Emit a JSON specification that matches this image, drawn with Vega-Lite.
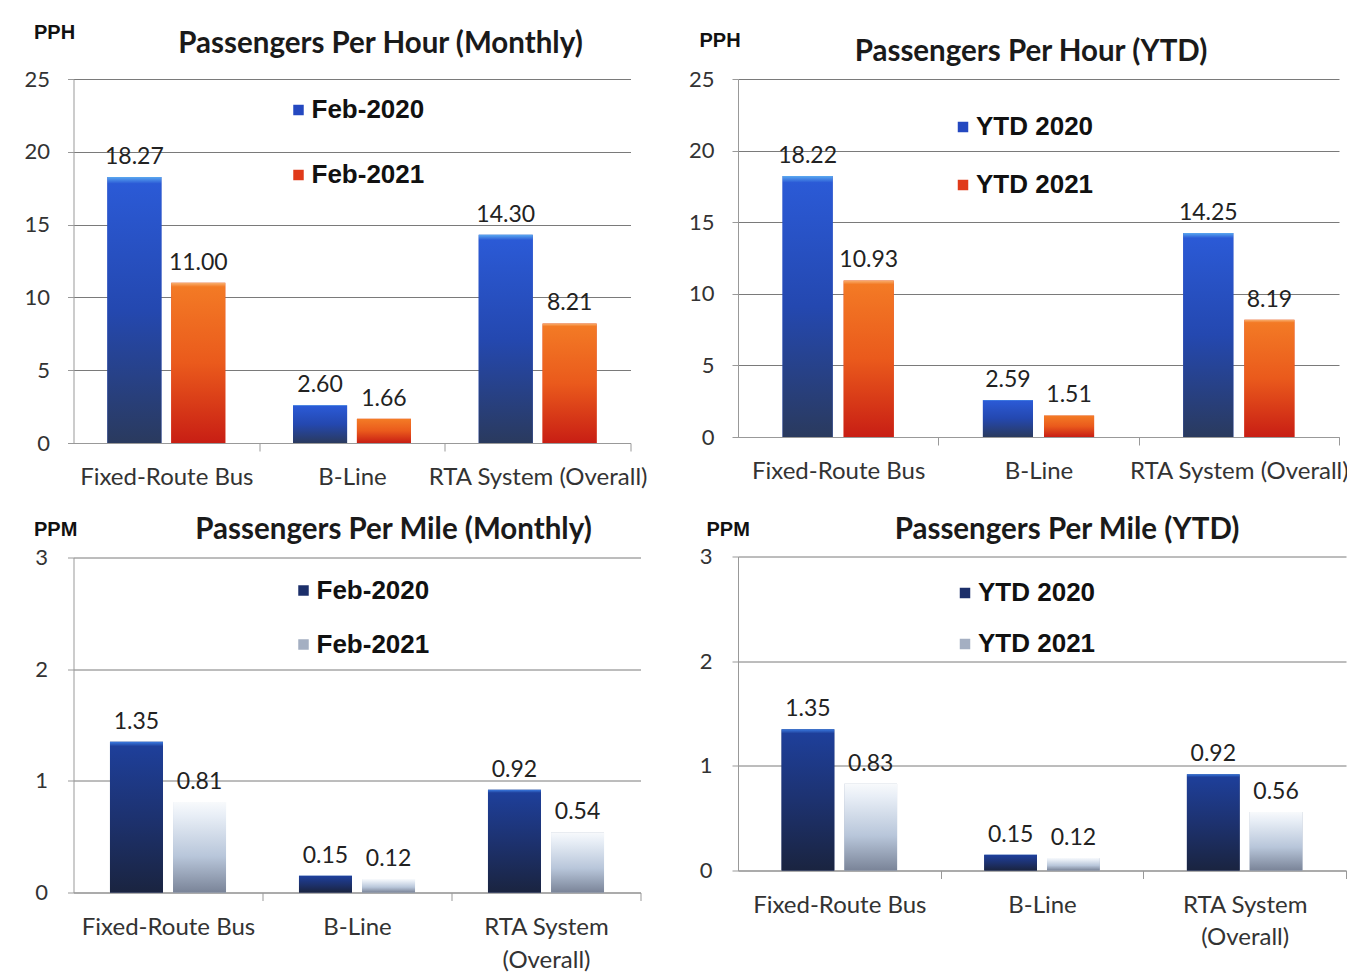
{
  "$schema": "https://vega.github.io/schema/vega-lite/v6.json",
  "background": "#ffffff",
  "padding": {"left": 23.5, "top": 22, "right": 0, "bottom": 0},
  "columns": 2,
  "align": {"row": "none", "column": "each"},
  "spacing": {"row": 25.5, "column": 40.5},
  "resolve": {"scale": {"color": "independent", "xOffset": "independent"}, "legend": {"color": "independent"}},
  "config": {"view": {"stroke": null}, "font": "Lato"},
  "datasets": {
    "pph_monthly": [
      {"category": "Fixed-Route Bus", "series": "Feb-2020", "value": 18.27},
      {"category": "Fixed-Route Bus", "series": "Feb-2021", "value": 11.00},
      {"category": "B-Line", "series": "Feb-2020", "value": 2.60},
      {"category": "B-Line", "series": "Feb-2021", "value": 1.66},
      {"category": "RTA System (Overall)", "series": "Feb-2020", "value": 14.30},
      {"category": "RTA System (Overall)", "series": "Feb-2021", "value": 8.21}
    ],
    "pph_ytd": [
      {"category": "Fixed-Route Bus", "series": "YTD 2020", "value": 18.22},
      {"category": "Fixed-Route Bus", "series": "YTD 2021", "value": 10.93},
      {"category": "B-Line", "series": "YTD 2020", "value": 2.59},
      {"category": "B-Line", "series": "YTD 2021", "value": 1.51},
      {"category": "RTA System (Overall)", "series": "YTD 2020", "value": 14.25},
      {"category": "RTA System (Overall)", "series": "YTD 2021", "value": 8.19}
    ],
    "ppm_monthly": [
      {"category": "Fixed-Route Bus", "series": "Feb-2020", "value": 1.35},
      {"category": "Fixed-Route Bus", "series": "Feb-2021", "value": 0.81},
      {"category": "B-Line", "series": "Feb-2020", "value": 0.15},
      {"category": "B-Line", "series": "Feb-2021", "value": 0.12},
      {"category": "RTA System (Overall)", "series": "Feb-2020", "value": 0.92},
      {"category": "RTA System (Overall)", "series": "Feb-2021", "value": 0.54}
    ],
    "ppm_ytd": [
      {"category": "Fixed-Route Bus", "series": "YTD 2020", "value": 1.35},
      {"category": "Fixed-Route Bus", "series": "YTD 2021", "value": 0.83},
      {"category": "B-Line", "series": "YTD 2020", "value": 0.15},
      {"category": "B-Line", "series": "YTD 2021", "value": 0.12},
      {"category": "RTA System (Overall)", "series": "YTD 2020", "value": 0.92},
      {"category": "RTA System (Overall)", "series": "YTD 2021", "value": 0.56}
    ]
  },
  "concat": [
    {
      "width": 557, "height": 364,
      "title": {"text": "Passengers Per Hour (Monthly)", "frame": "group", "anchor": "middle", "dx": 28.5, "offset": -37, "fontSize": 29.5, "font": "Lato", "fontWeight": "bold", "color": "#1a1a1a"},
      "data": {"name": "pph_monthly"},
      "encoding": {
        "x": {"field": "category", "type": "nominal", "sort": ["Fixed-Route Bus", "B-Line", "RTA System (Overall)"], "scale": {"paddingInner": 0.365, "paddingOuter": 0.1825},
          "axis": {"title": null, "labelAngle": 0, "labelLimit": 0, "labelFont": "Lato", "labelFontSize": 24, "labelColor": "#333333", "labelPadding": 14, "tickOffset": 92.8, "labelOffset": -92.8, "tickSize": 8, "tickColor": "#999999", "domainColor": "#999999", "grid": false}},
        "xOffset": {"field": "series", "type": "nominal", "sort": ["Feb-2020", "Feb-2021"], "scale": {"paddingInner": 0.154, "paddingOuter": 0}},
        "y": {"field": "value", "type": "quantitative", "scale": {"domain": [0, 25]},
          "axis": {"values": [0, 5, 10, 15, 20, 25], "title": "PPH", "titleAngle": 0, "titleX": -40, "titleY": -47, "titleAlign": "left", "titleBaseline": "middle", "titleFont": "Liberation Sans", "titleFontSize": 20, "titleFontWeight": "bold", "titleColor": "#111111", "labelFont": "Lato", "labelFontSize": 22, "labelColor": "#333333", "labelPadding": 18, "tickSize": 6, "tickColor": "#999999", "domainColor": "#999999", "gridColor": "#7a7a7a", "gridWidth": 1}}
      },
      "layer": [
        {"mark": {"type": "bar"},
         "encoding": {"color": {"field": "series", "type": "nominal", "scale": {"domain": ["Feb-2020", "Feb-2021"], "range": ["#2448c0", "#e03a1a"]},
           "legend": {"orient": "none", "legendX": 212, "legendY": 18, "title": null, "direction": "vertical", "symbolType": "square", "symbolSize": 110, "symbolStrokeWidth": 0, "labelFont": "Liberation Sans", "labelFontSize": 26, "labelFontWeight": "bold", "labelColor": "#111111", "rowPadding": 39, "labelOffset": 0}}}},
        {"transform": [{"filter": "datum.series === 'Feb-2020'"}],
         "mark": {"type": "bar", "color": {"gradient": "linear", "x1": 0, "y1": 0, "x2": 0, "y2": 1, "stops": [{"offset": 0, "color": "#5aa8f0"}, {"offset": 0.025, "color": "#2b5ad6"}, {"offset": 0.5, "color": "#2448b0"}, {"offset": 1, "color": "#2a3a5e"}]}}},
        {"transform": [{"filter": "datum.series === 'Feb-2021'"}],
         "mark": {"type": "bar", "color": {"gradient": "linear", "x1": 0, "y1": 0, "x2": 0, "y2": 1, "stops": [{"offset": 0, "color": "#f8b070"}, {"offset": 0.025, "color": "#f37a25"}, {"offset": 0.5, "color": "#ea5a1c"}, {"offset": 1, "color": "#c81e14"}]}}},
        {"mark": {"type": "text", "dy": -20, "font": "Lato", "fontSize": 23, "color": "#222222"},
         "encoding": {"text": {"field": "value", "type": "quantitative", "format": ".2f"}}}
      ]
    },
    {
      "width": 601, "height": 358,
      "title": {"text": "Passengers Per Hour (YTD)", "frame": "group", "anchor": "middle", "dx": -7.5, "offset": -37, "fontSize": 29.5, "font": "Lato", "fontWeight": "bold", "color": "#1a1a1a"},
      "data": {"name": "pph_ytd"},
      "encoding": {
        "x": {"field": "category", "type": "nominal", "sort": ["Fixed-Route Bus", "B-Line", "RTA System (Overall)"], "scale": {"paddingInner": 0.445, "paddingOuter": 0.2225},
          "axis": {"title": null, "labelAngle": 0, "labelLimit": 0, "labelFont": "Lato", "labelFontSize": 24, "labelColor": "#333333", "labelPadding": 14, "tickOffset": 100.2, "labelOffset": -100.2, "tickSize": 8, "tickColor": "#999999", "domainColor": "#999999", "grid": false}},
        "xOffset": {"field": "series", "type": "nominal", "sort": ["YTD 2020", "YTD 2021"], "scale": {"paddingInner": 0.18, "paddingOuter": 0}},
        "y": {"field": "value", "type": "quantitative", "scale": {"domain": [0, 25]},
          "axis": {"values": [0, 5, 10, 15, 20, 25], "title": "PPH", "titleAngle": 0, "titleX": -39, "titleY": -39, "titleAlign": "left", "titleBaseline": "middle", "titleFont": "Liberation Sans", "titleFontSize": 20, "titleFontWeight": "bold", "titleColor": "#111111", "labelFont": "Lato", "labelFontSize": 22, "labelColor": "#333333", "labelPadding": 18, "tickSize": 6, "tickColor": "#999999", "domainColor": "#999999", "gridColor": "#7a7a7a", "gridWidth": 1}}
      },
      "layer": [
        {"mark": {"type": "bar"},
         "encoding": {"color": {"field": "series", "type": "nominal", "scale": {"domain": ["YTD 2020", "YTD 2021"], "range": ["#2448c0", "#e03a1a"]},
           "legend": {"orient": "none", "legendX": 212, "legendY": 35, "title": null, "direction": "vertical", "symbolType": "square", "symbolSize": 110, "symbolStrokeWidth": 0, "labelFont": "Liberation Sans", "labelFontSize": 26, "labelFontWeight": "bold", "labelColor": "#111111", "rowPadding": 32, "labelOffset": 0}}}},
        {"transform": [{"filter": "datum.series === 'YTD 2020'"}],
         "mark": {"type": "bar", "color": {"gradient": "linear", "x1": 0, "y1": 0, "x2": 0, "y2": 1, "stops": [{"offset": 0, "color": "#5aa8f0"}, {"offset": 0.025, "color": "#2b5ad6"}, {"offset": 0.5, "color": "#2448b0"}, {"offset": 1, "color": "#2a3a5e"}]}}},
        {"transform": [{"filter": "datum.series === 'YTD 2021'"}],
         "mark": {"type": "bar", "color": {"gradient": "linear", "x1": 0, "y1": 0, "x2": 0, "y2": 1, "stops": [{"offset": 0, "color": "#f8b070"}, {"offset": 0.025, "color": "#f37a25"}, {"offset": 0.5, "color": "#ea5a1c"}, {"offset": 1, "color": "#c81e14"}]}}},
        {"mark": {"type": "text", "dy": -20, "font": "Lato", "fontSize": 23, "color": "#222222"},
         "encoding": {"text": {"field": "value", "type": "quantitative", "format": ".2f"}}}
      ]
    },
    {
      "width": 567, "height": 335,
      "title": {"text": "Passengers Per Mile (Monthly)", "frame": "group", "anchor": "middle", "dx": 36.5, "offset": -26, "fontSize": 29.5, "font": "Lato", "fontWeight": "bold", "color": "#1a1a1a"},
      "data": {"name": "ppm_monthly"},
      "encoding": {
        "x": {"field": "category", "type": "nominal", "sort": ["Fixed-Route Bus", "B-Line", "RTA System (Overall)"], "scale": {"paddingInner": 0.386, "paddingOuter": 0.193},
          "axis": {"title": null, "labelAngle": 0, "labelLimit": 0, "labelExpr": "datum.label === 'RTA System (Overall)' ? ['RTA System', '(Overall)'] : datum.label", "labelLineHeight": 33, "labelFont": "Lato", "labelFontSize": 24, "labelColor": "#333333", "labelPadding": 15, "tickOffset": 94.5, "labelOffset": -94.5, "tickSize": 8, "tickColor": "#999999", "domainColor": "#999999", "grid": false}},
        "xOffset": {"field": "series", "type": "nominal", "sort": ["Feb-2020", "Feb-2021"], "scale": {"paddingInner": 0.16, "paddingOuter": 0}},
        "y": {"field": "value", "type": "quantitative", "scale": {"domain": [0, 3]},
          "axis": {"values": [0, 1, 2, 3], "title": "PPM", "titleAngle": 0, "titleX": -40, "titleY": -28, "titleAlign": "left", "titleBaseline": "middle", "titleFont": "Liberation Sans", "titleFontSize": 20, "titleFontWeight": "bold", "titleColor": "#111111", "labelFont": "Lato", "labelFontSize": 22, "labelColor": "#333333", "labelPadding": 20, "tickSize": 6, "tickColor": "#999999", "domainColor": "#999999", "gridColor": "#7a7a7a", "gridWidth": 1}}
      },
      "layer": [
        {"mark": {"type": "bar"},
         "encoding": {"color": {"field": "series", "type": "nominal", "scale": {"domain": ["Feb-2020", "Feb-2021"], "range": ["#1c2f6a", "#a4afc2"]},
           "legend": {"orient": "none", "legendX": 217, "legendY": 20, "title": null, "direction": "vertical", "symbolType": "square", "symbolSize": 110, "symbolStrokeWidth": 0, "labelFont": "Liberation Sans", "labelFontSize": 26, "labelFontWeight": "bold", "labelColor": "#111111", "rowPadding": 28, "labelOffset": 0}}}},
        {"transform": [{"filter": "datum.series === 'Feb-2020'"}],
         "mark": {"type": "bar", "color": {"gradient": "linear", "x1": 0, "y1": 0, "x2": 0, "y2": 1, "stops": [{"offset": 0, "color": "#3a7ae0"}, {"offset": 0.03, "color": "#1e3f9a"}, {"offset": 0.5, "color": "#1d3270"}, {"offset": 1, "color": "#1a2440"}]}}},
        {"transform": [{"filter": "datum.series === 'Feb-2021'"}],
         "mark": {"type": "bar", "color": {"gradient": "linear", "x1": 0, "y1": 0, "x2": 0, "y2": 1, "stops": [{"offset": 0, "color": "#f8fafc"}, {"offset": 0.15, "color": "#e8eef6"}, {"offset": 0.6, "color": "#b8c6da"}, {"offset": 1, "color": "#7a8498"}]}}},
        {"mark": {"type": "text", "dy": -20, "font": "Lato", "fontSize": 23, "color": "#222222"},
         "encoding": {"text": {"field": "value", "type": "quantitative", "format": ".2f"}}}
      ]
    },
    {
      "width": 608, "height": 314,
      "title": {"text": "Passengers Per Mile (YTD)", "frame": "group", "anchor": "middle", "dx": 25, "offset": -26, "fontSize": 29.5, "font": "Lato", "fontWeight": "bold", "color": "#1a1a1a"},
      "data": {"name": "ppm_ytd"},
      "encoding": {
        "x": {"field": "category", "type": "nominal", "sort": ["Fixed-Route Bus", "B-Line", "RTA System (Overall)"], "scale": {"paddingInner": 0.43, "paddingOuter": 0.215},
          "axis": {"title": null, "labelAngle": 0, "labelLimit": 0, "labelExpr": "datum.label === 'RTA System (Overall)' ? ['RTA System', '(Overall)'] : datum.label", "labelLineHeight": 32, "labelFont": "Lato", "labelFontSize": 24, "labelColor": "#333333", "labelPadding": 15, "tickOffset": 101.3, "labelOffset": -101.3, "tickSize": 8, "tickColor": "#999999", "domainColor": "#999999", "grid": false}},
        "xOffset": {"field": "series", "type": "nominal", "sort": ["YTD 2020", "YTD 2021"], "scale": {"paddingInner": 0.16, "paddingOuter": 0}},
        "y": {"field": "value", "type": "quantitative", "scale": {"domain": [0, 3]},
          "axis": {"values": [0, 1, 2, 3], "title": "PPM", "titleAngle": 0, "titleX": -32, "titleY": -27, "titleAlign": "left", "titleBaseline": "middle", "titleFont": "Liberation Sans", "titleFontSize": 20, "titleFontWeight": "bold", "titleColor": "#111111", "labelFont": "Lato", "labelFontSize": 22, "labelColor": "#333333", "labelPadding": 20, "tickSize": 6, "tickColor": "#999999", "domainColor": "#999999", "gridColor": "#7a7a7a", "gridWidth": 1}}
      },
      "layer": [
        {"mark": {"type": "bar"},
         "encoding": {"color": {"field": "series", "type": "nominal", "scale": {"domain": ["YTD 2020", "YTD 2021"], "range": ["#1c2f6a", "#a4afc2"]},
           "legend": {"orient": "none", "legendX": 214, "legendY": 23.5, "title": null, "direction": "vertical", "symbolType": "square", "symbolSize": 110, "symbolStrokeWidth": 0, "labelFont": "Liberation Sans", "labelFontSize": 26, "labelFontWeight": "bold", "labelColor": "#111111", "rowPadding": 25, "labelOffset": 0}}}},
        {"transform": [{"filter": "datum.series === 'YTD 2020'"}],
         "mark": {"type": "bar", "color": {"gradient": "linear", "x1": 0, "y1": 0, "x2": 0, "y2": 1, "stops": [{"offset": 0, "color": "#3a7ae0"}, {"offset": 0.03, "color": "#1e3f9a"}, {"offset": 0.5, "color": "#1d3270"}, {"offset": 1, "color": "#1a2440"}]}}},
        {"transform": [{"filter": "datum.series === 'YTD 2021'"}],
         "mark": {"type": "bar", "color": {"gradient": "linear", "x1": 0, "y1": 0, "x2": 0, "y2": 1, "stops": [{"offset": 0, "color": "#f8fafc"}, {"offset": 0.15, "color": "#e8eef6"}, {"offset": 0.6, "color": "#b8c6da"}, {"offset": 1, "color": "#7a8498"}]}}},
        {"mark": {"type": "text", "dy": -20, "font": "Lato", "fontSize": 23, "color": "#222222"},
         "encoding": {"text": {"field": "value", "type": "quantitative", "format": ".2f"}}}
      ]
    }
  ]
}
